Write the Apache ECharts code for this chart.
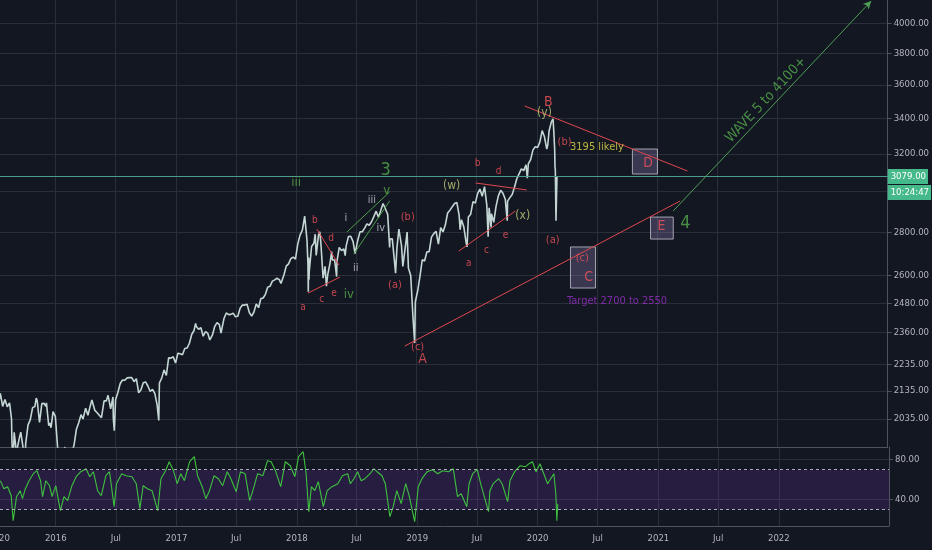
<!DOCTYPE html>
<html>
<head>
<meta charset="utf-8">
<script src="https://cdn.jsdelivr.net/npm/echarts@6/dist/echarts.min.js"></script>
<style>
html,body{margin:0;padding:0;background:#131722;}
#chart{width:932px;height:550px;}
</style>
</head>
<body>
<div id="chart"></div>
<script>
// ---------- DATA ----------
const priceTicks = [2035, 2135, 2235, 2360, 2480, 2600, 2800, 3000, 3200, 3400, 3600, 3800, 4000];
const rsiTicks = [40, 80];
const rsiBand = [30, 70];
const tickDates = ['2016-01-01','2016-07-01','2017-01-01','2017-07-01','2018-01-01','2018-07-01','2019-01-01','2019-07-01','2020-01-01','2020-07-01','2021-01-01','2021-07-01','2022-01-01'];
const tickLabels = ['2016','Jul','2017','Jul','2018','Jul','2019','Jul','2020','Jul','2021','Jul','2022'];
const dateRange = ['2015-07-16', '2022-12-01'];
const lastPrice = 3079;
const countdown = '10:24:47';

const price = [
['2015-07-13',2099],['2015-07-17',2126],['2015-07-24',2079],['2015-07-31',2104],['2015-08-07',2078],['2015-08-14',2092],['2015-08-20',2035],['2015-08-21',1971],['2015-08-24',1867],['2015-08-28',1989],['2015-09-04',1921],['2015-09-11',1961],['2015-09-17',1990],['2015-09-25',1931],['2015-09-29',1881],['2015-10-02',1951],['2015-10-09',2014],['2015-10-16',2033],['2015-10-23',2075],['2015-10-30',2079],['2015-11-03',2109],['2015-11-06',2099],['2015-11-13',2023],['2015-11-20',2089],['2015-11-27',2090],['2015-12-02',2079],['2015-12-04',2092],['2015-12-11',2012],['2015-12-14',2021],['2015-12-18',2005],['2015-12-24',2061],['2015-12-31',2044],
['2016-01-08',1922],['2016-01-15',1880],['2016-01-20',1859],['2016-01-22',1907],['2016-01-29',1940],['2016-02-05',1880],['2016-02-11',1829],['2016-02-19',1918],['2016-02-26',1948],['2016-03-04',2000],['2016-03-11',2022],['2016-03-18',2050],['2016-03-24',2035],['2016-04-01',2073],['2016-04-08',2048],['2016-04-15',2081],['2016-04-20',2102],['2016-04-29',2065],['2016-05-06',2057],['2016-05-13',2047],['2016-05-19',2040],['2016-05-27',2099],['2016-06-03',2099],['2016-06-08',2119],['2016-06-16',2071],['2016-06-23',2113],['2016-06-24',2037],['2016-06-27',1995],['2016-07-01',2103],['2016-07-08',2130],['2016-07-15',2162],['2016-07-22',2175],['2016-07-29',2174],['2016-08-05',2183],['2016-08-12',2184],['2016-08-19',2184],['2016-08-26',2169],['2016-09-02',2180],['2016-09-09',2128],['2016-09-16',2139],['2016-09-23',2165],['2016-09-30',2168],['2016-10-07',2153],['2016-10-14',2133],['2016-10-21',2141],['2016-10-28',2126],['2016-11-04',2085],['2016-11-09',2030],['2016-11-11',2164],['2016-11-18',2182],['2016-11-25',2213],['2016-12-02',2192],['2016-12-09',2259],['2016-12-16',2258],['2016-12-23',2263],['2016-12-30',2239],
['2017-01-06',2277],['2017-01-13',2275],['2017-01-20',2271],['2017-01-27',2295],['2017-02-03',2297],['2017-02-10',2316],['2017-02-17',2351],['2017-02-24',2367],['2017-03-01',2396],['2017-03-03',2383],['2017-03-10',2372],['2017-03-17',2378],['2017-03-24',2344],['2017-03-31',2363],['2017-04-07',2355],['2017-04-13',2329],['2017-04-21',2349],['2017-04-28',2384],['2017-05-05',2399],['2017-05-12',2391],['2017-05-17',2357],['2017-05-26',2416],['2017-06-02',2439],['2017-06-09',2432],['2017-06-16',2433],['2017-06-23',2438],['2017-06-30',2423],['2017-07-07',2425],['2017-07-14',2459],['2017-07-21',2472],['2017-07-28',2472],['2017-08-04',2476],['2017-08-11',2441],['2017-08-18',2426],['2017-08-25',2443],['2017-09-01',2477],['2017-09-08',2461],['2017-09-15',2500],['2017-09-22',2502],['2017-09-29',2519],['2017-10-06',2549],['2017-10-13',2553],['2017-10-20',2575],['2017-10-27',2581],['2017-11-03',2588],['2017-11-10',2582],['2017-11-15',2565],['2017-11-24',2602],['2017-12-01',2642],['2017-12-08',2652],['2017-12-15',2676],['2017-12-22',2683],['2017-12-29',2674],
['2018-01-05',2743],['2018-01-12',2786],['2018-01-19',2810],['2018-01-26',2878],['2018-02-02',2762],['2018-02-05',2649],['2018-02-06',2529],['2018-02-07',2681],['2018-02-08',2581],['2018-02-09',2620],['2018-02-16',2732],['2018-02-23',2747],['2018-02-27',2790],['2018-03-02',2691],['2018-03-09',2786],['2018-03-13',2801],['2018-03-16',2752],['2018-03-23',2588],['2018-03-29',2641],['2018-04-02',2553],['2018-04-06',2604],['2018-04-13',2656],['2018-04-18',2708],['2018-04-20',2670],['2018-04-27',2670],['2018-05-03',2595],['2018-05-04',2663],['2018-05-11',2728],['2018-05-18',2713],['2018-05-25',2721],['2018-05-29',2690],['2018-06-01',2735],['2018-06-08',2779],['2018-06-15',2780],['2018-06-22',2755],['2018-06-28',2699],['2018-07-06',2760],['2018-07-13',2801],['2018-07-20',2802],['2018-07-27',2819],['2018-08-03',2840],['2018-08-10',2833],['2018-08-17',2850],['2018-08-24',2875],['2018-08-31',2902],['2018-09-07',2872],['2018-09-14',2905],['2018-09-21',2940],['2018-09-28',2914],['2018-10-05',2886],['2018-10-11',2728],['2018-10-12',2767],['2018-10-19',2768],['2018-10-26',2658],['2018-10-29',2610],['2018-11-02',2723],['2018-11-08',2814],['2018-11-16',2736],['2018-11-20',2641],['2018-11-23',2633],['2018-11-30',2760],['2018-12-03',2800],['2018-12-07',2633],['2018-12-14',2600],['2018-12-21',2417],['2018-12-26',2317],['2018-12-28',2486],
['2019-01-04',2532],['2019-01-11',2596],['2019-01-18',2671],['2019-01-25',2665],['2019-02-01',2707],['2019-02-08',2708],['2019-02-15',2776],['2019-02-22',2793],['2019-03-01',2804],['2019-03-08',2743],['2019-03-15',2822],['2019-03-22',2801],['2019-03-29',2834],['2019-04-05',2893],['2019-04-12',2907],['2019-04-18',2905],['2019-04-26',2940],['2019-05-03',2946],['2019-05-10',2881],['2019-05-13',2812],['2019-05-17',2860],['2019-05-24',2826],['2019-05-31',2752],['2019-06-03',2730],['2019-06-07',2873],['2019-06-14',2887],['2019-06-21',2950],['2019-06-28',2942],['2019-07-05',2990],['2019-07-12',3014],['2019-07-19',2977],['2019-07-26',3026],['2019-08-02',2932],['2019-08-06',2778],['2019-08-09',2919],['2019-08-15',2822],['2019-08-16',2889],['2019-08-23',2847],['2019-08-30',2926],['2019-09-06',2979],['2019-09-13',3007],['2019-09-20',2992],['2019-09-27',2962],['2019-10-03',2855],['2019-10-04',2952],['2019-10-11',2970],['2019-10-18',2986],['2019-10-25',3023],['2019-11-01',3067],['2019-11-08',3093],['2019-11-15',3120],['2019-11-22',3110],['2019-11-29',3141],['2019-12-03',3070],['2019-12-06',3146],['2019-12-13',3169],['2019-12-20',3221],['2019-12-27',3240],
['2020-01-03',3235],['2020-01-10',3265],['2020-01-17',3330],['2020-01-24',3295],['2020-01-31',3226],['2020-02-03',3249],['2020-02-07',3328],['2020-02-14',3380],['2020-02-19',3397],['2020-02-21',3338],['2020-02-24',3226],['2020-02-25',3128],['2020-02-26',3116],['2020-02-27',2979],['2020-02-28',2855],['2020-03-02',3079]
];

const rsi = [
['2015-07-17',59],['2015-07-28',51],['2015-08-08',53],['2015-08-19',44],['2015-08-25',19],['2015-09-04',43],['2015-09-15',49],['2015-09-22',41],['2015-10-01',51],['2015-10-12',59],['2015-10-25',66],['2015-11-05',69],['2015-11-16',59],['2015-11-22',43],['2015-12-02',59],['2015-12-13',54],['2015-12-21',43],
['2016-01-01',54],['2016-01-15',29],['2016-01-26',43],['2016-02-06',39],['2016-02-19',54],['2016-03-03',63],['2016-03-17',68],['2016-04-02',71],['2016-04-13',63],['2016-04-24',68],['2016-05-07',49],['2016-05-18',44],['2016-06-01',64],['2016-06-12',68],['2016-06-26',33],['2016-07-03',56],['2016-07-19',66],['2016-08-01',64],['2016-08-19',63],['2016-09-01',56],['2016-09-12',31],['2016-09-22',54],['2016-10-05',51],['2016-10-19',49],['2016-11-05',29],['2016-11-15',61],['2016-11-29',69],['2016-12-10',78],['2016-12-23',69],
['2017-01-03',56],['2017-01-14',66],['2017-01-25',59],['2017-02-10',78],['2017-02-24',83],['2017-03-06',64],['2017-03-20',53],['2017-03-31',41],['2017-04-11',49],['2017-04-25',64],['2017-05-08',61],['2017-05-21',54],['2017-06-04',68],['2017-06-15',61],['2017-07-01',48],['2017-07-14',68],['2017-07-28',66],['2017-08-11',39],['2017-08-24',53],['2017-09-04',66],['2017-09-20',64],['2017-10-04',79],['2017-10-15',78],['2017-10-28',69],['2017-11-13',53],['2017-11-27',78],['2017-12-12',74],['2017-12-26',63],
['2018-01-06',83],['2018-01-20',88],['2018-01-29',66],['2018-02-06',28],['2018-02-14',53],['2018-02-24',49],['2018-03-07',58],['2018-03-22',33],['2018-04-03',49],['2018-04-17',53],['2018-05-05',56],['2018-05-19',64],['2018-06-04',66],['2018-06-12',56],['2018-06-23',61],['2018-07-04',68],['2018-07-15',59],['2018-07-26',61],['2018-08-11',66],['2018-08-22',71],['2018-09-01',68],['2018-09-16',64],['2018-09-26',56],['2018-10-10',23],['2018-10-20',33],['2018-10-31',49],['2018-11-13',36],['2018-11-27',56],['2018-12-08',43],['2018-12-24',18],
['2019-01-04',53],['2019-01-15',61],['2019-01-31',68],['2019-02-16',70],['2019-03-04',66],['2019-03-19',69],['2019-04-06',68],['2019-04-20',71],['2019-05-03',43],['2019-05-14',46],['2019-05-31',33],['2019-06-07',56],['2019-06-18',66],['2019-07-02',70],['2019-07-12',56],['2019-08-05',28],['2019-08-09',49],['2019-08-19',56],['2019-09-05',61],['2019-09-15',56],['2019-10-02',38],['2019-10-09',59],['2019-10-23',68],['2019-11-09',74],['2019-11-25',73],['2019-12-06',76],['2019-12-16',78],['2019-12-27',68],
['2020-01-08',76],['2020-01-31',56],['2020-02-19',66],['2020-02-25',46],['2020-02-28',19],['2020-03-02',36]
];

// annotation texts anchored at [date, price]
const redSmall = [['2018-01-21',2464,'a'],['2018-02-26',2858,'b'],['2018-03-19',2498,'c'],['2018-04-16',2772,'d'],['2018-04-25',2523,'e'],
  ['2019-06-08',2656,'a'],['2019-07-05',3151,'b'],['2019-08-01',2716,'c'],['2019-09-07',3108,'d'],['2019-09-28',2786,'e']];
const redParen = [['2018-10-27',2558,'(a)'],['2018-12-05',2873,'(b)'],['2019-01-04',2301,'(c)'],['2020-02-18',2763,'(a)'],['2020-03-25',3266,'(b)'],['2020-05-18',2679,'(c)']];
const redBig = [['2019-01-19',2254,'A'],['2020-02-05',3497,'B'],['2020-06-06',2593,'C'],['2020-12-04',3151,'D'],['2021-01-13',2829,'E']];
const greenBig = [['2018-09-29',3113,'3'],['2021-03-27',2844,'4']];
const greenSmall = [['2017-12-31',3045,'iii'],['2018-06-09',2515,'iv'],['2018-10-02',3004,'v']];
const whiteLabels = [['2018-05-31',2868,'i'],['2018-06-30',2634,'ii'],['2018-08-18',2958,'iii'],['2018-09-14',2820,'iv']];
const oliveLabels = [['2019-04-17',3030,'(w)'],['2019-11-19',2878,'(x)'],['2020-01-24',3432,'(y)']];
const yellowNote = [['2020-04-09',3238,'3195 likely']];
const purpleNote = [['2020-03-31',2489,'Target 2700 to 2550']];
const waveNote = [['2021-11-27',3509,'WAVE 5 to 4100+']];

const redLines = [
  [['2018-02-05',2523],['2018-05-13',2593]],
  [['2018-03-04',2815],['2018-05-10',2647]],
  [['2018-11-26',2305],['2021-03-11',2953]],
  [['2019-11-25',3473],['2021-04-02',3108]],
  [['2019-05-09',2711],['2019-10-28',2903]],
  [['2019-06-29',3045],['2019-12-01',3009]]
];
const greenLines = [
  [['2018-06-03',2800],['2018-10-11',2999]],
  [['2018-06-24',2697],['2018-10-11',2953]]
];
const waveArrow = [['2021-02-18',2903],['2022-10-12',4155]];
const boxes = [
  [['2020-10-17',3227],['2021-01-01',3092]],
  [['2020-12-11',2873],['2021-02-18',2767]],
  [['2020-04-12',2730],['2020-06-27',2545]]
];

// ---------- CHART ----------
const FONT = '"DejaVu Sans Condensed","Liberation Sans Narrow","Roboto Condensed",sans-serif';
const AXIS_COL = '#b2b5be';
const GRID_COL = '#2a2e39';
const EDGE_COL = '#4e525d';

function ts(s){ const p = s.split('-'); return new Date(+p[0], +p[1]-1, +p[2]).getTime(); }
const pt = r => [ts(r[0])].concat(r.slice(1));
const tickTs = tickDates.map(ts);
function xLabel(v){ const i = tickTs.indexOf(v); return i >= 0 ? tickLabels[i] : ''; }
const xMin = ts(dateRange[0]), xMax = ts(dateRange[1]);

function textSeries(data, color, size, extra){
  return {
    type: 'scatter', xAxisIndex: 0, yAxisIndex: 0, silent: true,
    symbolSize: 1, itemStyle: { color: 'rgba(0,0,0,0)' },
    data: data.map(pt),
    label: Object.assign({ show: true, position: 'inside', color: color, fontSize: size, fontFamily: FONT,
      formatter: p => p.data[2] }, extra || {}),
    z: 5
  };
}
function segs(list){ return list.map(s => [{ coord: pt(s[0]) }, { coord: pt(s[1]) }]); }

const xCommon = (grid, showLabel) => ({
  type: 'value', gridIndex: grid, min: xMin, max: xMax, scale: true,
  axisLine: { show: true, onZero: false, lineStyle: { color: EDGE_COL, width: 1 } },
  axisTick: { show: false, customValues: tickTs },
  axisLabel: { show: showLabel, customValues: tickTs, formatter: xLabel, color: AXIS_COL, fontSize: 9.5, fontFamily: FONT, margin: 8 },
  splitLine: { show: true, lineStyle: { color: GRID_COL, width: 1 } }
});

const chart = echarts.init(document.getElementById('chart'), null, { renderer: 'canvas' });
chart.setOption({
  backgroundColor: '#131722',
  animation: false,
  textStyle: { fontFamily: FONT },
  grid: [
    { left: 0, right: 43, top: 0, height: 447 },
    { left: 0, right: 43, top: 447, height: 79 }
  ],
  xAxis: [ xCommon(0, false), xCommon(1, true) ],
  yAxis: [
    { type: 'log', logBase: 10, gridIndex: 0, position: 'right', min: 1940, max: 4162,
      axisLine: { show: true, lineStyle: { color: EDGE_COL } },
      axisTick: { show: true, length: 4, customValues: priceTicks, lineStyle: { color: EDGE_COL } },
      axisLabel: { show: true, customValues: priceTicks, formatter: v => Number(v).toFixed(2), color: AXIS_COL, fontSize: 9.5, fontFamily: FONT, margin: 6 },
      splitLine: { show: true, lineStyle: { color: GRID_COL, width: 1 } } },
    { type: 'value', gridIndex: 1, position: 'right', min: 13.7, max: 92.7,
      axisLine: { show: true, lineStyle: { color: EDGE_COL } },
      axisTick: { show: true, length: 4, customValues: rsiTicks, lineStyle: { color: EDGE_COL } },
      axisLabel: { show: true, customValues: rsiTicks, formatter: v => Number(v).toFixed(2), color: AXIS_COL, fontSize: 9.5, fontFamily: FONT, margin: 6 },
      splitLine: { show: true, lineStyle: { color: GRID_COL, width: 1 } } }
  ],
  graphic: [
    { type: 'text', left: -1, top: 534, style: { text: '20', fill: AXIS_COL, fontSize: 9.5, fontFamily: FONT } }
  ],
  series: [
    { type: 'line', name: 'price', xAxisIndex: 0, yAxisIndex: 0, data: price.map(pt), showSymbol: false, silent: true,
      lineStyle: { color: '#c4d6d4', width: 1.6 }, z: 3, clip: true,
      markLine: { silent: true, symbol: ['none','none'], animation: false,
        lineStyle: { color: '#4b9b8e', width: 1, type: 'solid' },
        label: { show: true, position: 'end', distance: 0, color: '#ffffff', fontSize: 9.5, fontFamily: FONT,
          backgroundColor: '#45b98a', padding: [3, 2, 2, 3] },
        data: [
          { yAxis: lastPrice, label: { formatter: () => lastPrice.toFixed(2) } },
          { yAxis: lastPrice, lineStyle: { color: 'rgba(0,0,0,0)', width: 0 }, label: { formatter: () => countdown, offset: [0, 16] } }
        ] } },
    { type: 'line', name: 'rsi', xAxisIndex: 1, yAxisIndex: 1, data: rsi.map(pt), showSymbol: false, silent: true,
      lineStyle: { color: '#3ec23e', width: 1.1 }, z: 3,
      markArea: { silent: true, itemStyle: { color: 'rgba(120,60,200,0.19)' },
        data: [[{ yAxis: rsiBand[0] }, { yAxis: rsiBand[1] }]] },
      markLine: { silent: true, symbol: ['none','none'], label: { show: false },
        lineStyle: { color: '#a9acb6', width: 1, type: [3, 3] },
        data: [{ yAxis: rsiBand[0] }, { yAxis: rsiBand[1] }] } },
    Object.assign(textSeries(redSmall, '#f0525a', 10), {
      markLine: { silent: true, symbol: ['none','none'], label: { show: false },
        lineStyle: { color: '#e0474f', width: 1, type: 'solid' }, data: segs(redLines) },
      markArea: { silent: true, itemStyle: { color: 'rgba(160,140,200,0.28)', borderColor: 'rgba(205,205,215,0.75)', borderWidth: 1 },
        data: boxes.map(b => [{ coord: pt(b[0]) }, { coord: pt(b[1]) }]) }
    }),
    Object.assign(textSeries(greenSmall, '#5aab4a', 13), {
      markLine: { silent: true, symbol: ['none','none'], label: { show: false },
        lineStyle: { color: '#4f9f4f', width: 1, type: 'solid' }, data: segs(greenLines) }
    }),
    Object.assign(textSeries(greenBig, '#55ab4c', 18), {
      markLine: { silent: true, symbol: ['none','arrow'], symbolSize: [6, 8], label: { show: false },
        lineStyle: { color: '#4f9f56', width: 1, type: 'solid' }, data: segs([waveArrow]) }
    }),
    textSeries(redParen, '#f0525a', 11),
    textSeries(redBig, '#f0525a', 14),
    textSeries(whiteLabels, '#c8cbd3', 11),
    textSeries(oliveLabels, '#c3cf7a', 12),
    textSeries(yellowNote, '#e4dc4a', 11, { position: 'right', distance: 0 }),
    textSeries(purpleNote, '#9b30c8', 11, { position: 'right', distance: 0 }),
    textSeries(waveNote, '#55ab4c', 14, { rotate: 47 })
  ]
});
</script>
</body>
</html>
